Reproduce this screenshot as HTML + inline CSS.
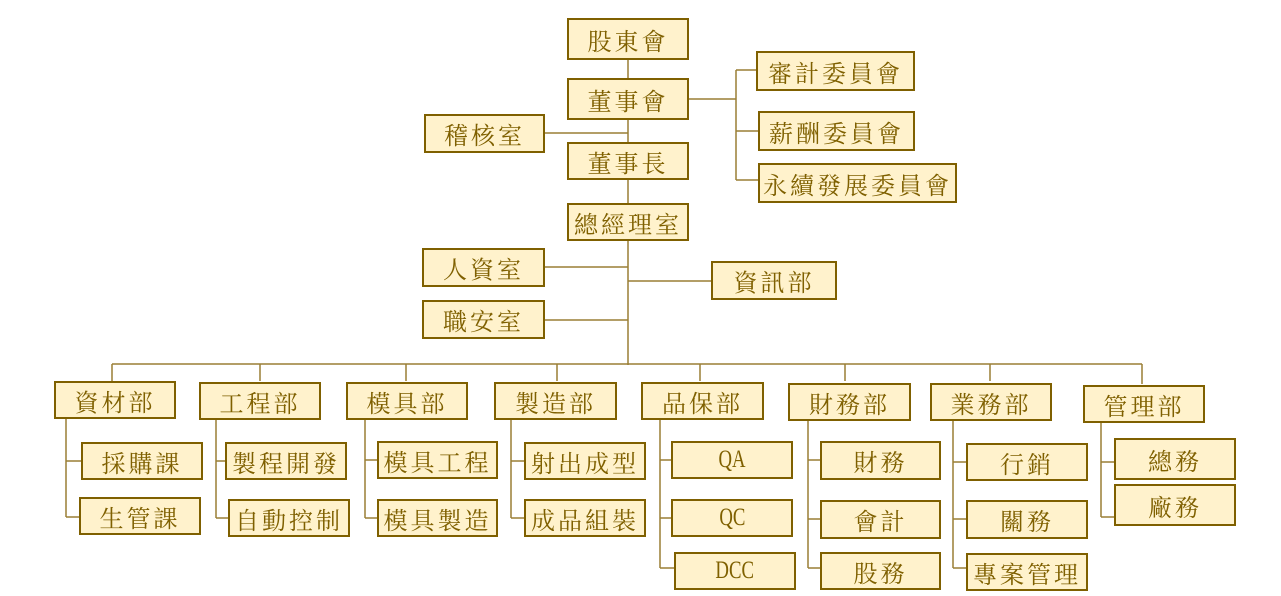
<!DOCTYPE html>
<html><head><meta charset="utf-8"><style>
body{margin:0;width:1281px;height:596px;background:#fff;position:relative;overflow:hidden}
.b{position:absolute;box-sizing:border-box;background:#fff2cc;border:2px solid #7f6000;color:#7f6000;display:flex;align-items:center;justify-content:center;font-family:"Liberation Serif","Noto Serif CJK SC",serif;font-size:24px;letter-spacing:3px;white-space:nowrap}
.l{letter-spacing:0;font-size:25px}
.l span{display:inline-block;transform:scaleX(0.75)}
svg{position:absolute;left:0;top:0}
</style></head><body>
<svg width="1281" height="596" stroke="#9a7f35" stroke-width="1.5" fill="none">
<path d="M628 60V203M628 240V365M545 133H628M545 267H628M545 320H628M628 281H711"/>
<path d="M689 99H736M736 70V180M736 70H756M736 131H758M736 180H758"/>
<path d="M112 364H1142M112 364V381M260 364V381M406 364V381M557 364V381M700 364V381M845 364V381M990 364V381M1142 364V384"/>
<path d="M66 419V517M66 461H81M66 517H79"/>
<path d="M216 419V518M216 461H225M216 518H228"/>
<path d="M365 419V518M365 460H377M365 518H377"/>
<path d="M511 419V518M511 461H524M511 518H524"/>
<path d="M660 419V568M660 460H671M660 518H671M660 568H674"/>
<path d="M808 419V568M808 460H820M808 519H820M808 568H820"/>
<path d="M953 419V568M953 462H966M953 519H966M953 568H966"/>
<path d="M1101 423V517M1101 462H1114M1101 517H1114"/>
</svg>
<div class="b" style="left:567px;top:18px;width:122px;height:42px">股東會</div>
<div class="b" style="left:567px;top:78px;width:122px;height:42px">董事會</div>
<div class="b" style="left:424px;top:114px;width:121px;height:39px">稽核室</div>
<div class="b" style="left:567px;top:142px;width:122px;height:38px">董事長</div>
<div class="b" style="left:567px;top:203px;width:122px;height:38px">總經理室</div>
<div class="b" style="left:756px;top:51px;width:159px;height:40px">審計委員會</div>
<div class="b" style="left:758px;top:111px;width:157px;height:40px">薪酬委員會</div>
<div class="b" style="left:758px;top:163px;width:199px;height:40px">永續發展委員會</div>
<div class="b" style="left:422px;top:248px;width:123px;height:39px">人資室</div>
<div class="b" style="left:422px;top:300px;width:123px;height:39px">職安室</div>
<div class="b" style="left:711px;top:261px;width:126px;height:39px">資訊部</div>
<div class="b" style="left:54px;top:381px;width:122px;height:38px">資材部</div>
<div class="b" style="left:199px;top:382px;width:122px;height:38px">工程部</div>
<div class="b" style="left:346px;top:382px;width:122px;height:38px">模具部</div>
<div class="b" style="left:494px;top:382px;width:123px;height:38px">製造部</div>
<div class="b" style="left:641px;top:382px;width:123px;height:38px">品保部</div>
<div class="b" style="left:788px;top:383px;width:123px;height:38px">財務部</div>
<div class="b" style="left:930px;top:383px;width:122px;height:38px">業務部</div>
<div class="b" style="left:1083px;top:385px;width:122px;height:38px">管理部</div>
<div class="b" style="left:81px;top:442px;width:122px;height:38px">採購課</div>
<div class="b" style="left:79px;top:497px;width:122px;height:38px">生管課</div>
<div class="b" style="left:225px;top:442px;width:122px;height:38px">製程開發</div>
<div class="b" style="left:228px;top:499px;width:122px;height:38px">自動控制</div>
<div class="b" style="left:377px;top:441px;width:121px;height:38px">模具工程</div>
<div class="b" style="left:377px;top:499px;width:121px;height:38px">模具製造</div>
<div class="b" style="left:524px;top:442px;width:122px;height:38px">射出成型</div>
<div class="b" style="left:524px;top:499px;width:122px;height:38px">成品組裝</div>
<div class="b l" style="left:671px;top:441px;width:122px;height:38px"><span>QA</span></div>
<div class="b l" style="left:671px;top:499px;width:122px;height:38px"><span>QC</span></div>
<div class="b l" style="left:674px;top:552px;width:122px;height:38px"><span>DCC</span></div>
<div class="b" style="left:820px;top:441px;width:121px;height:39px">財務</div>
<div class="b" style="left:820px;top:500px;width:121px;height:39px">會計</div>
<div class="b" style="left:820px;top:552px;width:121px;height:38px">股務</div>
<div class="b" style="left:966px;top:443px;width:122px;height:38px">行銷</div>
<div class="b" style="left:966px;top:500px;width:122px;height:39px">關務</div>
<div class="b" style="left:966px;top:553px;width:122px;height:38px">專案管理</div>
<div class="b" style="left:1114px;top:438px;width:122px;height:42px">總務</div>
<div class="b" style="left:1114px;top:484px;width:122px;height:42px">廠務</div>
</body></html>
